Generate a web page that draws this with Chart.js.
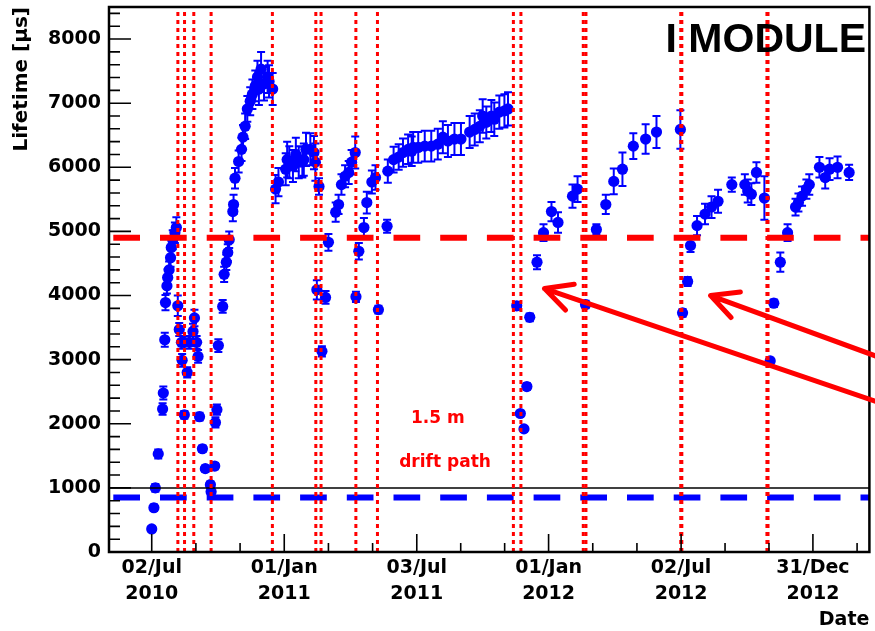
<!DOCTYPE html>
<html>
<head>
<meta charset="utf-8">
<script src="https://cdn.jsdelivr.net/npm/chart.js@4/dist/chart.umd.min.js"></script>
<style>
  html, body { margin: 0; padding: 0; background: #fff; }
  #wrap { width: 875px; height: 631px; }
</style>
</head>
<body>
<div id="wrap"><canvas id="chart" width="875" height="631"></canvas></div>
<script>
// x values: days counted from 02/Jul/2010
const dayOffset = [
  0, 3, 5, 9, 15, 16, 18, 19, 21, 22, 24, 26, 27, 29, 32, 34,
  36, 38, 41, 42, 45, 45, 49, 52, 57, 59, 62, 64, 66, 70, 74, 81, 82, 87, 88, 90, 92,
  98, 100, 103, 105, 107, 112, 113, 115, 120, 124, 126, 129, 132, 136, 139, 143, 146, 148, 151, 155, 160, 162, 167,
  171, 175, 185, 187, 190, 195, 199, 203, 208, 210, 213, 219, 224, 226, 228, 231, 235, 240,
  244, 254, 258, 262, 267, 272, 276, 281, 282, 286, 293, 297, 304, 309, 313,
  325, 326, 334, 341, 347, 354, 359, 361, 368, 377, 386, 395, 402, 409, 418, 427, 439, 446, 453, 457, 462, 469, 473, 480, 487, 492,
  504, 509, 514, 518, 522, 532, 541, 552, 561, 581, 588, 599, 614, 627, 638, 650, 665, 682, 697, 730,
  733, 740, 744, 753, 764, 773, 782, 801, 819, 823, 828, 835, 846, 854, 859, 868, 878, 889, 893, 898, 904, 908, 922, 930, 936, 947, 963
];
const lifetime = [
  360, 690, 1000, 1530, 2230, 2480, 3310, 3890, 4150, 4280, 4400, 4590, 4750, 4870, 4980, 5060,
  3840, 3470, 3270, 2990, 3270, 2140, 2800, 3270, 3440, 3650, 3270, 3050, 2110, 1610, 1300, 1050, 940, 1340, 2020, 2220, 3220,
  3830, 4330, 4520, 4670, 4870, 5310, 5420, 5830, 6090, 6280, 6470, 6640, 6910, 7030, 7140, 7270, 7410, 7220, 7530, 7300, 7410, 7340, 7220,
  5660, 5770, 5970, 6120, 6080, 6020, 6200, 6080, 6080, 6120, 6280, 6280, 6230, 6080, 4090, 5700, 3130, 3970,
  4830, 5300, 5420, 5730, 5860, 5920, 6080, 6230, 3980, 4690, 5060, 5450, 5770, 5840, 3780,
  5080, 5940, 6120, 6160, 6230, 6280, 6250, 6310, 6310, 6330, 6330, 6360, 6470, 6410, 6440, 6440, 6550, 6590, 6640, 6800, 6700, 6800, 6750, 6860, 6880, 6910,
  3840, 2160, 1920, 2580, 3660, 4520, 4980, 5310, 5140, 5550, 5660, 3860, 5030, 5420, 5780, 5970, 6330, 6440, 6550, 6590,
  3730, 4220, 4780, 5090, 5270, 5380, 5470, 5730, 5730, 5630, 5580, 5920, 5520, 2980, 3880, 4520, 4980, 5380, 5450, 5550, 5660, 5730, 6000, 5840, 5970, 6000, 5920
];
const lifetimeErr = [
  40, 50, 60, 70, 90, 100, 110, 120, 120, 130, 130, 140, 140, 150, 160, 160,
  160, 100, 100, 100, 100, 60, 80, 100, 120, 130, 100, 100, 60, 50, 50, 50, 40, 50, 80, 80, 100,
  100, 120, 120, 130, 130, 150, 150, 160, 170, 180, 190, 200, 200, 220, 230, 240, 250, 250, 270, 260, 250, 250, 250,
  220, 220, 250, 280, 250, 250, 260, 250, 240, 250, 260, 250, 260, 290, 150, 130, 80, 100,
  130, 150, 150, 160, 170, 180, 190, 250, 80, 130, 150, 170, 180, 190, 60,
  100, 180, 200, 200, 220, 230, 230, 240, 240, 240, 240, 240, 250, 250, 250, 250, 250, 250, 250, 260, 250, 250, 260, 260, 260, 260,
  60, 40, 40, 50, 60, 110, 130, 150, 160, 180, 200, 60, 80, 150, 200, 260, 200, 230, 250, 300,
  60, 70, 100, 150, 160, 170, 180, 110, 160, 180, 170, 160, 340, 50, 60, 150, 130, 130, 140, 150, 150, 160, 160, 170, 170, 170, 120
];

const xTickDays = [0, 183, 366, 548, 731, 913];
const xTickLabels = [['02/Jul', '2010'], ['01/Jan', '2011'], ['03/Jul', '2011'], ['01/Jan', '2012'], ['02/Jul', '2012'], ['31/Dec', '2012']];
const yTickValues = [0, 1000, 2000, 3000, 4000, 5000, 6000, 7000, 8000];

// red dotted markers (days)
const eventDays = [36.1, 45.3, 58.1, 82.0, 166.6, 226.6, 233.8, 281.9, 311.7, 499.4, 509.8, 595.9, 599.6, 730.5, 732, 849.5, 851];
const targetLifetime = 4900;
const minLifetime = 850;
const refLifetime = 1000;

// arrows: tip and tail, in days / µs
const arrowTipDays = [542.4, 771.7];
const arrowTipValues = [4109, 4000];
const arrowTailDays = [1000, 1000];
const arrowTailValues = [2348, 3055];

const X_MIN = -59, X_MAX = 991, Y_MIN = 0, Y_MAX = 8500;

const datasets = [{
  label: 'lifetime',
  data: dayOffset.map((d, i) => ({ x: d, y: lifetime[i] })),
  backgroundColor: '#0000ff',
  borderColor: '#0000ff',
  pointRadius: 5.6,
  borderWidth: 0,
  order: 10,
}];

const hLine = (val, color, width, dash, offset) => ({
  type: 'line',
  data: [{ x: X_MIN, y: val }, { x: X_MAX, y: val }],
  borderColor: color,
  borderWidth: width,
  borderDash: dash,
  borderDashOffset: offset,
  pointRadius: 0,
  showLine: true,
  order: 1,
});
datasets.push(hLine(refLifetime, '#000000', 1.5, [], 0));
datasets.push(hLine(targetLifetime, '#ff0000', 6, [26.7, 20], 42.4));
datasets.push(hLine(minLifetime, '#0000ff', 6, [26.7, 20], 42.4));

eventDays.forEach(d => {
  datasets.push({
    type: 'line',
    data: [{ x: d, y: Y_MIN }, { x: d, y: Y_MAX }],
    borderColor: '#ff0000',
    borderWidth: 3,
    borderDash: [4, 4],
    pointRadius: 0,
    showLine: true,
    order: 0,
  });
});

const errorBars = {
  id: 'errorBars',
  beforeDatasetDraw(chart, args) {
    if (args.index !== 0) return;
    const { ctx, scales: { x, y } } = chart;
    ctx.save();
    ctx.strokeStyle = '#0000ff';
    ctx.lineWidth = 2;
    ctx.beginPath();
    dayOffset.forEach((d, i) => {
      const px = x.getPixelForValue(d);
      const lo = y.getPixelForValue(lifetime[i] - lifetimeErr[i]);
      const hi = y.getPixelForValue(lifetime[i] + lifetimeErr[i]);
      ctx.moveTo(px, lo); ctx.lineTo(px, hi);
      ctx.moveTo(px - 4, lo); ctx.lineTo(px + 4, lo);
      ctx.moveTo(px - 4, hi); ctx.lineTo(px + 4, hi);
    });
    ctx.stroke();
    ctx.restore();
  }
};

const frameAndNotes = {
  id: 'frameAndNotes',
  afterDraw(chart) {
    const { ctx, chartArea: a, scales: { x, y } } = chart;
    ctx.save();

    // inward ticks
    ctx.strokeStyle = '#000';
    ctx.lineWidth = 1.6;
    ctx.beginPath();
    for (let v = Y_MIN; v <= Y_MAX; v += 200) {
      const py = y.getPixelForValue(v);
      const len = v % 1000 === 0 ? 22 : 11;
      ctx.moveTo(a.left, py); ctx.lineTo(a.left + len, py);
    }
    const step = xTickDays[1] - xTickDays[0];
    const minor = [];
    xTickDays.forEach((d, i) => {
      const next = i < xTickDays.length - 1 ? xTickDays[i + 1] : d + step;
      minor.push(d + (next - d) / 3, d + 2 * (next - d) / 3);
    });
    minor.push(xTickDays[0] - step / 3);
    minor.forEach(d => {
      const px = x.getPixelForValue(d);
      if (px < a.left || px > a.right) return;
      ctx.moveTo(px, a.bottom); ctx.lineTo(px, a.bottom - 9);
    });
    xTickDays.forEach(d => {
      const px = x.getPixelForValue(d);
      ctx.moveTo(px, a.bottom); ctx.lineTo(px, a.bottom - 18);
    });
    ctx.stroke();

    // frame
    ctx.lineWidth = 2.5;
    ctx.strokeRect(a.left, a.top, a.right - a.left, a.bottom - a.top);

    // arrows
    ctx.strokeStyle = '#ff0000';
    ctx.lineWidth = 5;
    ctx.lineCap = 'round';
    arrowTipDays.forEach((d, i) => {
      const x2 = x.getPixelForValue(d), y2 = y.getPixelForValue(arrowTipValues[i]);
      const x1 = x.getPixelForValue(arrowTailDays[i]), y1 = y.getPixelForValue(arrowTailValues[i]);
      const ang = Math.atan2(y1 - y2, x1 - x2);
      ctx.beginPath();
      ctx.moveTo(x1, y1); ctx.lineTo(x2, y2);
      [-0.47, 0.47].forEach(s => {
        ctx.moveTo(x2, y2);
        ctx.lineTo(x2 + 30 * Math.cos(ang + s), y2 + 30 * Math.sin(ang + s));
      });
      ctx.stroke();
    });

    // labels
    ctx.fillStyle = '#ff0000';
    ctx.font = 'bold 17px "DejaVu Sans"';
    ctx.textAlign = 'center';
    ctx.textBaseline = 'middle';
    ctx.fillText('1.5 m', x.getPixelForValue(395), y.getPixelForValue(2080));
    ctx.fillText('drift path', x.getPixelForValue(405), y.getPixelForValue(1390));

    ctx.fillStyle = '#000';
    ctx.font = 'bold 41px "Liberation Sans"';
    ctx.textAlign = 'right';
    ctx.textBaseline = 'alphabetic';
    ctx.fillText('I MODULE', 866, 52);
    ctx.restore();
  }
};

const tickFont = { family: 'DejaVu Sans', size: 19, weight: 'bold', lineHeight: 1.32 };

new Chart(document.getElementById('chart'), {
  type: 'scatter',
  data: { datasets },
  plugins: [errorBars, frameAndNotes],
  options: {
    responsive: false,
    animation: false,
    events: [],
    devicePixelRatio: 1,
    layout: { padding: { top: 7, right: -3, left: 0, bottom: 0 } },
    plugins: { legend: { display: false }, tooltip: { enabled: false } },
    scales: {
      x: {
        type: 'linear',
        min: X_MIN,
        max: X_MAX,
        grid: { display: false, drawTicks: false },
        border: { display: false },
        afterBuildTicks: s => { s.ticks = xTickDays.map(v => ({ value: v })); },
        afterFit: s => { s.height = 79; s.paddingLeft = 0; s.paddingRight = 0; },
        ticks: {
          autoSkip: false,
          maxRotation: 0,
          padding: 4,
          color: '#000',
          font: tickFont,
          callback: (v, i) => xTickLabels[i],
        },
        title: {
          display: true,
          text: 'Date',
          align: 'end',
          color: '#000',
          padding: 0,
          font: { family: 'DejaVu Sans', size: 19, weight: 'bold' },
        },
      },
      y: {
        min: Y_MIN,
        max: Y_MAX,
        grid: { display: false, drawTicks: false },
        border: { display: false },
        afterBuildTicks: s => { s.ticks = yTickValues.map(v => ({ value: v })); },
        afterFit: s => { s.width = 109; s.paddingTop = 0; s.paddingBottom = 0; },
        ticks: {
          padding: 8,
          color: '#000',
          font: tickFont,
          callback: v => String(v),
        },
        title: {
          display: true,
          text: 'Lifetime [µs]',
          align: 'end',
          color: '#000',
          padding: { top: 10, bottom: 0 },
          font: { family: 'DejaVu Sans', size: 20, weight: 'bold' },
        },
      },
    },
  },
});
</script>
</body>
</html>
